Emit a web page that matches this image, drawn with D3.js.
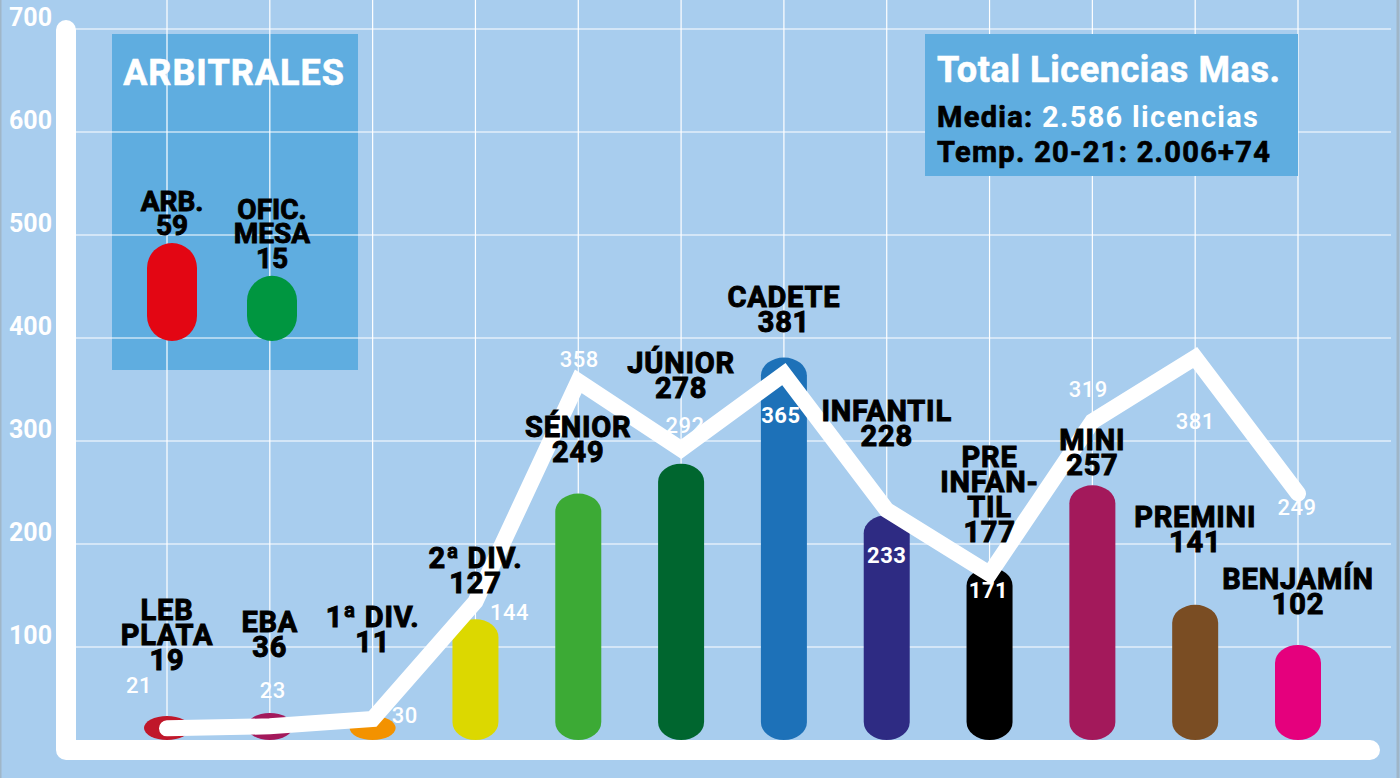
<!DOCTYPE html>
<html>
<head>
<meta charset="utf-8">
<script src="https://cdn.jsdelivr.net/npm/d3@7"></script>
<style>
  body { margin: 0; background: #a8cdee; }
  svg { display: block; font-family: Roboto, "Noto Sans", sans-serif; }
</style>
</head>
<body>
<div id="chart"></div>
<script>
// categories ("|" = line break in the label)
const categories = ["LEB|PLATA", "EBA", "1ª DIV.", "2ª DIV.", "SÉNIOR", "JÚNIOR", "CADETE", "INFANTIL", "PRE|INFAN-|TIL", "MINI", "PREMINI", "BENJAMÍN"];
// licences this season (bars)
const licencias = [19, 36, 11, 127, 249, 278, 381, 228, 177, 257, 141, 102];
// white line (previous figures)
const lineValues = [21, 23, 30, 144, 358, 292, 365, 233, 171, 319, 381, 249];
const barColors = ["#c0172a", "#a3195b", "#f39200", "#dcd800", "#3caa35", "#00662f", "#1d71b8", "#2e2b83", "#000000", "#a3195b", "#7a4d23", "#e5007d"];
const yTicks = [100, 200, 300, 400, 500, 600, 700];

// referee box
const arbNames = ["ARB.", "OFIC.|MESA"];
const arbValues = [59, 15];
const arbColors = ["#e30613", "#009640"];

// label layout: gap (px) from bar top to the value line, offsets of the white numbers
const labelGap = [46, 56, 64, 26, 32, 66, 26, 69, 26, 10, 53, 31];
const lineLabelOffset = [[-28, -35], [3, -28], [32, 4], [34, 18], [1, -14], [4, -16], [-3, 49], [0, 53], [-1, 24], [-4, -24], [0, 71], [-1, 21]];

const width = 1400, height = 778;
const blue = "#5fade0";

const svg = d3.select("#chart").append("svg")
    .attr("width", width)
    .attr("height", height);

svg.append("rect").attr("width", width).attr("height", height).attr("fill", "#a8cdee");

const y = d3.scaleLinear().domain([0, 700]).range([750, 29]);
const x = d3.scalePoint().domain(categories).range([167, 1298]);
const barW = 46;
const base = y(0) - 10;

// left box sits under the grid
svg.append("rect")
    .attr("x", 112).attr("y", 34).attr("width", 246).attr("height", 336)
    .attr("fill", blue);

// grid
svg.append("g").selectAll("line")
    .data(yTicks)
    .join("line")
    .attr("x1", 66).attr("x2", 1391)
    .attr("y1", d => y(d)).attr("y2", d => y(d))
    .attr("stroke", "#fff").attr("stroke-width", 1.2);

svg.append("g").selectAll("line")
    .data(categories)
    .join("line")
    .attr("x1", d => x(d)).attr("x2", d => x(d))
    .attr("y1", 0).attr("y2", base)
    .attr("stroke", "#fff").attr("stroke-width", 1.2);

svg.append("text")
    .attr("x", 234).attr("y", 85)
    .attr("text-anchor", "middle")
    .attr("fill", "#fff")
    .attr("stroke", "#fff").attr("stroke-width", 0.6)
    .style("font-size", "36px").style("font-weight", 700)
    .style("letter-spacing", "1px")
    .text("ARBITRALES");

// referee capsules
const ax = d3.scalePoint().domain(arbNames).range([172, 272]);
const ah = d3.scaleLinear().domain([0, d3.max(arbValues)]).range([54, 98]);
const arbBottom = 341;
arbNames.forEach((name, i) => {
    const h = ah(arbValues[i]);
    const top = arbBottom - h;
    svg.append("rect")
        .attr("x", ax(name) - 25).attr("y", top)
        .attr("width", 50).attr("height", h)
        .attr("rx", 25).attr("ry", 25)
        .attr("fill", arbColors[i]);
    const lines = name.split("|").concat([String(arbValues[i])]);
    const t = svg.append("text")
        .attr("text-anchor", "middle")
        .style("font-size", "28px").style("font-weight", 700)
        .attr("fill", "#000")
        .attr("stroke", "#000").attr("stroke-width", 0.9);
    lines.forEach((l, j) => {
        t.append("tspan")
            .attr("x", ax(name))
            .attr("y", top - 8 - (lines.length - 1 - j) * 24.5)
            .text(l);
    });
});

// right info box (covers the grid)
svg.append("rect")
    .attr("x", 925).attr("y", 34).attr("width", 373).attr("height", 142)
    .attr("fill", blue);

svg.append("text")
    .attr("x", 937).attr("y", 82)
    .attr("fill", "#fff")
    .attr("stroke", "#fff").attr("stroke-width", 0.6)
    .style("font-size", "36px").style("font-weight", 700)
    .style("letter-spacing", "0.6px")
    .text("Total Licencias Mas.");

const media = svg.append("text")
    .attr("x", 937).attr("y", 127)
    .style("font-size", "29px").style("font-weight", 700)
    .style("letter-spacing", "1.3px");
media.append("tspan").attr("fill", "#000").attr("stroke", "#000").attr("stroke-width", 0.7).text("Media: ");
media.append("tspan").attr("fill", "#fff").text("2.586 licencias");

svg.append("text")
    .attr("x", 937).attr("y", 162)
    .attr("fill", "#000")
    .attr("stroke", "#000").attr("stroke-width", 0.7)
    .style("font-size", "29px").style("font-weight", 700)
    .style("letter-spacing", "1.3px")
    .text("Temp. 20-21: 2.006+74");

// y tick labels
svg.append("g").selectAll("text")
    .data(yTicks)
    .join("text")
    .attr("x", 52)
    .attr("y", d => y(d) - 3)
    .attr("text-anchor", "end")
    .attr("fill", "#fff")
    .style("font-size", "25px").style("font-weight", 700)
    .text(d => d);

// bars
const barTop = licencias.map(v => Math.min(y(v), base - 24));
svg.append("g").selectAll("rect")
    .data(categories)
    .join("rect")
    .attr("x", d => x(d) - barW / 2)
    .attr("y", (d, i) => barTop[i])
    .attr("width", barW)
    .attr("height", (d, i) => base - barTop[i])
    .attr("rx", barW / 2)
    .attr("ry", (d, i) => Math.min(18, (base - barTop[i]) / 2))
    .attr("fill", (d, i) => barColors[i]);

// axis frame
svg.append("path")
    .attr("d", "M66," + 30 + "V" + y(0) + "H1370")
    .attr("fill", "none")
    .attr("stroke", "#fff")
    .attr("stroke-width", 20)
    .attr("stroke-linecap", "round")
    .attr("stroke-linejoin", "round");

// white line
const line = d3.line()
    .x((d, i) => x(categories[i]))
    .y(d => y(d));

svg.append("path")
    .datum(lineValues)
    .attr("d", line)
    .attr("fill", "none")
    .attr("stroke", "#fff")
    .attr("stroke-width", 16)
    .attr("stroke-linecap", "round")
    .attr("stroke-linejoin", "miter");

// white numbers of the line (bold when inside a bar)
svg.append("g").selectAll("text")
    .data(lineValues)
    .join("text")
    .attr("x", (d, i) => x(categories[i]) + lineLabelOffset[i][0])
    .attr("y", (d, i) => y(d) + lineLabelOffset[i][1])
    .attr("text-anchor", "middle")
    .attr("fill", "#fff")
    .style("font-size", "22px")
    .style("letter-spacing", "0.5px")
    .style("font-weight", (d, i) => {
        const ly = y(d) + lineLabelOffset[i][1];
        return Math.abs(lineLabelOffset[i][0]) < barW / 2 && ly > barTop[i] ? 700 : 500;
    })
    .text(d => d);

// category labels
categories.forEach((c, i) => {
    const lines = c.split("|").concat([String(licencias[i])]);
    const bottom = barTop[i] - labelGap[i];
    const t = svg.append("text")
        .attr("text-anchor", "middle")
        .attr("fill", "#000")
        .attr("stroke", "#000").attr("stroke-width", 1)
        .style("font-size", "29px").style("font-weight", 700)
        .style("letter-spacing", "0.8px");
    lines.forEach((l, j) => {
        t.append("tspan")
            .attr("x", x(c))
            .attr("y", bottom - (lines.length - 1 - j) * 25)
            .text(l);
    });
});

// thin grey page edges
svg.append("line").attr("x1", 0.75).attr("x2", 0.75).attr("y1", 0).attr("y2", height)
    .attr("stroke", "#9fb6c8").attr("stroke-width", 1.5);
svg.append("line").attr("x1", 1398).attr("x2", 1398).attr("y1", 0).attr("y2", height)
    .attr("stroke", "#9fb6c8").attr("stroke-width", 3);
</script>
</body>
</html>
